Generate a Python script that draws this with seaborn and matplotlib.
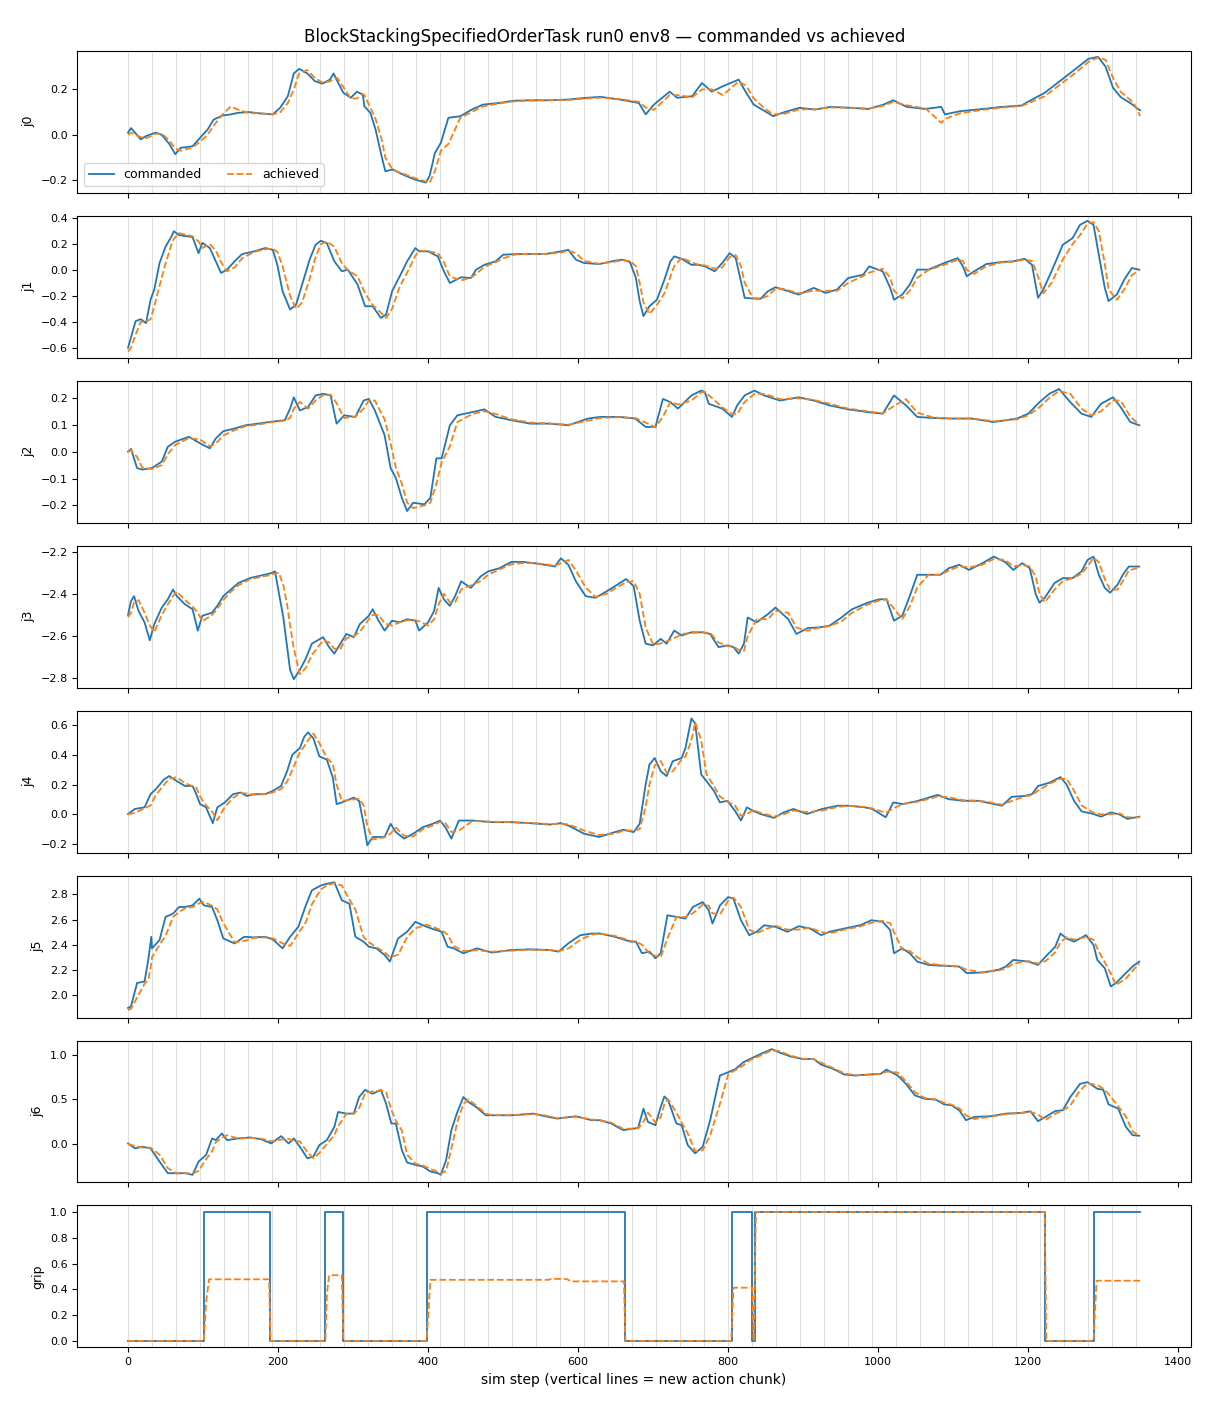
import numpy as np
import pandas as pd
import matplotlib
matplotlib.use("Agg")
import matplotlib.pyplot as plt
import seaborn as sns

# values (sim step, joint value)
j0_steps = [0, 4, 17, 24, 37, 45, 55, 63, 70, 86, 96, 106, 114, 126, 137, 147, 162, 177, 193, 203,
            213, 221, 228, 239, 249, 259, 269, 274, 279, 287, 297, 305, 313, 315, 323, 330, 338, 343, 353, 366,
            382, 397, 402, 409, 417, 427, 443, 458, 473, 494, 514, 534, 560, 585, 611, 630, 656, 681, 690, 701,
            722, 732, 752, 765, 778, 793, 814, 824, 834, 849, 860, 875, 895, 916, 936, 962, 987, 1007, 1020, 1038,
            1063, 1084, 1089, 1109, 1140, 1165, 1191, 1201, 1222, 1242, 1262, 1280, 1293, 1303, 1313, 1323, 1339, 1344, 1349]
j0_cmd = [0.01, 0.03, -0.02, -0.005, 0.01, 0.0, -0.04, -0.085, -0.057, -0.05, -0.013, 0.023, 0.067, 0.085, 0.09, 0.097, 0.1, 0.094, 0.09, 0.12,
          0.17, 0.27, 0.29, 0.27, 0.236, 0.225, 0.243, 0.27, 0.236, 0.185, 0.163, 0.19, 0.177, 0.126, 0.097, 0.023, -0.094, -0.16, -0.152, -0.174,
          -0.196, -0.21, -0.18, -0.08, -0.035, 0.075, 0.082, 0.111, 0.133, 0.14, 0.15, 0.152, 0.152, 0.155, 0.163, 0.167, 0.155, 0.14, 0.09, 0.133,
          0.19, 0.163, 0.17, 0.228, 0.19, 0.214, 0.243, 0.185, 0.133, 0.104, 0.082, 0.1, 0.119, 0.111, 0.123, 0.119, 0.114, 0.133, 0.152, 0.123,
          0.114, 0.123, 0.09, 0.104, 0.114, 0.123, 0.129, 0.148, 0.185, 0.236, 0.287, 0.334, 0.343, 0.3, 0.207, 0.167, 0.133, 0.119, 0.108]
j0_ach = [0.0, 0.01, -0.01, -0.015, 0.005, 0.005, -0.025, -0.06, -0.07, -0.055, -0.03, 0.0, 0.04, 0.09, 0.125, 0.11, 0.095, 0.095, 0.09, 0.1,
          0.14, 0.2, 0.27, 0.285, 0.25, 0.23, 0.235, 0.245, 0.25, 0.21, 0.16, 0.16, 0.18, 0.175, 0.12, 0.07, -0.02, -0.1, -0.155, -0.17,
          -0.19, -0.205, -0.21, -0.16, -0.07, -0.04, 0.075, 0.1, 0.125, 0.138, 0.147, 0.15, 0.152, 0.153, 0.16, 0.163, 0.157, 0.145, 0.12, 0.11,
          0.175, 0.175, 0.165, 0.2, 0.2, 0.175, 0.235, 0.215, 0.16, 0.115, 0.09, 0.093, 0.112, 0.113, 0.12, 0.12, 0.115, 0.128, 0.145, 0.13,
          0.116, 0.053, 0.07, 0.095, 0.11, 0.12, 0.127, 0.14, 0.17, 0.22, 0.27, 0.32, 0.34, 0.33, 0.25, 0.19, 0.145, 0.12, 0.082]

j1_steps = [0, 4, 10, 17, 24, 30, 35, 42, 50, 58, 61, 68, 86, 94, 99, 109, 117, 124, 132, 142,
            152, 168, 183, 193, 199, 206, 216, 224, 232, 242, 250, 257, 265, 275, 285, 293, 306, 316, 326, 337,
            344, 352, 362, 372, 383, 388, 400, 413, 421, 429, 444, 457, 464, 475, 490, 500, 516, 536, 556, 577,
            587, 597, 608, 628, 649, 659, 669, 677, 682, 687, 695, 705, 715, 723, 728, 738, 751, 761, 769, 782,
            792, 802, 810, 817, 822, 833, 843, 853, 863, 873, 894, 914, 930, 945, 960, 980, 988, 1006, 1016, 1021,
            1032, 1042, 1052, 1067, 1088, 1106, 1113, 1118, 1128, 1144, 1164, 1180, 1195, 1205, 1213, 1220, 1231, 1246, 1259, 1269,
            1279, 1287, 1294, 1302, 1307, 1318, 1328, 1338, 1348]
j1_cmd = [-0.6, -0.52, -0.395, -0.38, -0.41, -0.23, -0.15, 0.054, 0.18, 0.26, 0.3, 0.27, 0.254, 0.13, 0.21, 0.17, 0.067, -0.023, 0.003, 0.067,
          0.123, 0.144, 0.17, 0.156, 0.04, -0.164, -0.305, -0.267, -0.113, 0.08, 0.195, 0.226, 0.208, 0.067, -0.01, 0.003, -0.113, -0.28, -0.28, -0.37,
          -0.344, -0.164, -0.05, 0.067, 0.17, 0.144, 0.144, 0.105, -0.01, -0.1, -0.056, -0.062, 0.003, 0.04, 0.067, 0.118, 0.123, 0.123, 0.123, 0.144,
          0.156, 0.08, 0.054, 0.046, 0.072, 0.08, 0.062, -0.062, -0.24, -0.356, -0.28, -0.23, -0.074, 0.067, 0.105, 0.087, 0.04, 0.04, 0.028, -0.01,
          0.054, 0.13, 0.092, -0.087, -0.215, -0.22, -0.223, -0.164, -0.133, -0.151, -0.19, -0.138, -0.177, -0.151, -0.062, -0.036, 0.028, -0.01, -0.138, -0.23,
          -0.19, -0.113, 0.003, 0.003, 0.054, 0.092, 0.028, -0.049, -0.01, 0.046, 0.062, 0.067, 0.087, 0.04, -0.215, -0.151, -0.01, 0.195, 0.246, 0.349,
          0.38, 0.349, 0.118, -0.138, -0.24, -0.19, -0.074, 0.015, 0.003]
j1_ach = [-0.63, -0.6, -0.5, -0.4, -0.4, -0.38, -0.28, -0.12, 0.05, 0.2, 0.24, 0.285, 0.26, 0.22, 0.17, 0.2, 0.15, 0.06, -0.01, 0.02,
          0.09, 0.14, 0.16, 0.165, 0.14, 0.03, -0.2, -0.3, -0.25, -0.07, 0.1, 0.2, 0.22, 0.18, 0.05, 0.0, -0.05, -0.18, -0.27, -0.33,
          -0.37, -0.3, -0.13, -0.02, 0.11, 0.15, 0.145, 0.13, 0.06, -0.05, -0.08, -0.06, -0.03, 0.025, 0.06, 0.09, 0.12, 0.123, 0.123, 0.135,
          0.15, 0.13, 0.07, 0.048, 0.065, 0.075, 0.07, 0.03, -0.1, -0.25, -0.34, -0.27, -0.18, -0.05, 0.03, 0.095, 0.06, 0.04, 0.035, 0.01,
          0.02, 0.1, 0.115, 0.03, -0.1, -0.215, -0.222, -0.2, -0.145, -0.145, -0.18, -0.16, -0.16, -0.16, -0.1, -0.045, -0.02, 0.01, -0.06, -0.16,
          -0.22, -0.16, -0.06, 0.0, 0.04, 0.08, 0.07, 0.0, -0.03, 0.03, 0.058, 0.065, 0.08, 0.07, -0.05, -0.18, -0.1, 0.08, 0.2, 0.27,
          0.36, 0.37, 0.3, 0.05, -0.15, -0.23, -0.15, -0.04, 0.0]

j2_steps = [0, 4, 12, 19, 32, 45, 53, 63, 81, 96, 109, 117, 127, 142, 157, 173, 188, 209, 216, 221,
            229, 240, 250, 260, 270, 278, 288, 303, 314, 321, 329, 342, 350, 357, 365, 372, 380, 395, 403, 411,
            418, 429, 439, 459, 475, 490, 511, 536, 562, 587, 613, 629, 655, 676, 690, 703, 713, 723, 733, 751,
            764, 769, 774, 792, 805, 812, 822, 835, 848, 869, 894, 914, 935, 960, 986, 1006, 1021, 1037, 1052, 1073,
            1098, 1124, 1154, 1185, 1200, 1215, 1228, 1241, 1256, 1271, 1284, 1297, 1313, 1323, 1336, 1348]
j2_cmd = [0.0, 0.01, -0.061, -0.067, -0.061, -0.037, 0.018, 0.037, 0.055, 0.031, 0.012, 0.049, 0.076, 0.086, 0.098, 0.104, 0.11, 0.117, 0.16, 0.202,
          0.153, 0.166, 0.209, 0.215, 0.209, 0.104, 0.135, 0.129, 0.19, 0.196, 0.153, 0.061, -0.061, -0.098, -0.172, -0.221, -0.19, -0.196, -0.172, -0.025,
          -0.025, 0.098, 0.135, 0.147, 0.157, 0.129, 0.117, 0.104, 0.104, 0.098, 0.123, 0.129, 0.129, 0.123, 0.092, 0.092, 0.196, 0.184, 0.16, 0.209,
          0.227, 0.221, 0.178, 0.16, 0.129, 0.172, 0.209, 0.227, 0.209, 0.19, 0.202, 0.19, 0.172, 0.157, 0.147, 0.141, 0.209, 0.172, 0.129, 0.125,
          0.123, 0.123, 0.11, 0.123, 0.141, 0.184, 0.215, 0.233, 0.184, 0.141, 0.129, 0.178, 0.202, 0.166, 0.11, 0.098]
j2_ach = [0.0, 0.005, -0.02, -0.06, -0.065, -0.05, -0.01, 0.025, 0.05, 0.045, 0.02, 0.03, 0.06, 0.08, 0.095, 0.1, 0.108, 0.115, 0.125, 0.16,
          0.185, 0.16, 0.19, 0.21, 0.212, 0.18, 0.125, 0.13, 0.16, 0.19, 0.19, 0.12, 0.03, -0.06, -0.12, -0.19, -0.21, -0.2, -0.19, -0.12,
          -0.04, 0.02, 0.11, 0.14, 0.15, 0.14, 0.12, 0.108, 0.105, 0.1, 0.115, 0.125, 0.128, 0.125, 0.108, 0.09, 0.13, 0.185, 0.175, 0.19,
          0.22, 0.222, 0.21, 0.165, 0.14, 0.14, 0.185, 0.215, 0.215, 0.195, 0.198, 0.192, 0.178, 0.16, 0.15, 0.142, 0.17, 0.195, 0.145, 0.127,
          0.123, 0.123, 0.113, 0.12, 0.135, 0.165, 0.2, 0.225, 0.215, 0.16, 0.135, 0.15, 0.19, 0.19, 0.13, 0.1]

j3_steps = [0, 4, 8, 14, 22, 29, 35, 45, 53, 60, 65, 76, 86, 93, 99, 112, 119, 127, 137, 147,
            163, 178, 191, 196, 201, 207, 212, 216, 221, 229, 237, 245, 260, 268, 275, 283, 291, 301, 309, 321,
            326, 334, 342, 352, 362, 372, 383, 388, 400, 408, 414, 421, 429, 436, 444, 457, 470, 480, 495, 511,
            526, 541, 556, 569, 577, 587, 597, 610, 623, 638, 649, 664, 674, 682, 690, 700, 710, 718, 728, 738,
            751, 766, 776, 787, 800, 807, 814, 821, 826, 838, 853, 863, 880, 891, 906, 921, 935, 951, 965, 986,
            1001, 1011, 1021, 1032, 1042, 1052, 1067, 1083, 1094, 1108, 1121, 1139, 1154, 1169, 1180, 1192, 1202, 1210, 1215, 1222,
            1235, 1246, 1259, 1271, 1279, 1287, 1294, 1302, 1309, 1319, 1326, 1334, 1348]
j3_cmd = [-2.5, -2.434, -2.411, -2.481, -2.535, -2.62, -2.543, -2.465, -2.426, -2.38, -2.411, -2.45, -2.473, -2.574, -2.504, -2.489, -2.457, -2.411, -2.38, -2.349,
          -2.325, -2.313, -2.302, -2.294, -2.395, -2.512, -2.652, -2.76, -2.804, -2.76, -2.706, -2.636, -2.605, -2.652, -2.683, -2.636, -2.59, -2.605, -2.543, -2.504,
          -2.473, -2.527, -2.574, -2.527, -2.535, -2.52, -2.527, -2.574, -2.535, -2.481, -2.372, -2.426, -2.457, -2.411, -2.341, -2.372, -2.318, -2.294, -2.279, -2.249,
          -2.249, -2.255, -2.263, -2.271, -2.232, -2.263, -2.341, -2.411, -2.419, -2.388, -2.364, -2.33, -2.364, -2.527, -2.636, -2.644, -2.613, -2.636, -2.574, -2.597,
          -2.582, -2.582, -2.59, -2.652, -2.644, -2.652, -2.683, -2.636, -2.512, -2.535, -2.496, -2.465, -2.52, -2.59, -2.562, -2.559, -2.551, -2.512, -2.473, -2.442,
          -2.426, -2.426, -2.527, -2.504, -2.411, -2.31, -2.31, -2.31, -2.279, -2.263, -2.287, -2.255, -2.224, -2.249, -2.287, -2.255, -2.279, -2.403, -2.442, -2.419,
          -2.349, -2.326, -2.326, -2.294, -2.24, -2.224, -2.31, -2.372, -2.395, -2.357, -2.31, -2.271, -2.271]
j3_ach = [-2.51, -2.49, -2.44, -2.43, -2.49, -2.55, -2.58, -2.5, -2.45, -2.41, -2.39, -2.43, -2.46, -2.49, -2.53, -2.5, -2.47, -2.43, -2.39, -2.36,
          -2.33, -2.32, -2.31, -2.305, -2.3, -2.36, -2.45, -2.55, -2.66, -2.78, -2.75, -2.69, -2.62, -2.63, -2.66, -2.66, -2.61, -2.6, -2.58, -2.52,
          -2.5, -2.5, -2.54, -2.55, -2.535, -2.525, -2.525, -2.53, -2.55, -2.52, -2.45, -2.4, -2.44, -2.44, -2.38, -2.36, -2.34, -2.31, -2.285, -2.26,
          -2.255, -2.255, -2.26, -2.268, -2.255, -2.24, -2.29, -2.37, -2.415, -2.4, -2.375, -2.345, -2.34, -2.4, -2.56, -2.64, -2.635, -2.625, -2.61, -2.59,
          -2.585, -2.583, -2.585, -2.63, -2.648, -2.65, -2.665, -2.67, -2.6, -2.52, -2.52, -2.48, -2.49, -2.56, -2.575, -2.56, -2.553, -2.53, -2.49, -2.45,
          -2.432, -2.426, -2.47, -2.52, -2.46, -2.37, -2.31, -2.31, -2.29, -2.27, -2.275, -2.262, -2.235, -2.24, -2.27, -2.265, -2.27, -2.32, -2.4, -2.44,
          -2.38, -2.34, -2.326, -2.305, -2.27, -2.23, -2.25, -2.33, -2.38, -2.38, -2.34, -2.29, -2.275]

j4_steps = [0, 9, 22, 30, 37, 48, 55, 65, 76, 86, 91, 96, 104, 113, 119, 129, 140, 150, 158, 168,
            183, 193, 204, 212, 219, 229, 235, 240, 247, 255, 265, 273, 278, 285, 301, 308, 314, 319, 326, 342,
            350, 357, 368, 380, 393, 406, 416, 423, 431, 441, 459, 485, 511, 536, 562, 577, 587, 608, 628, 649,
            660, 674, 682, 690, 695, 702, 710, 718, 726, 738, 743, 751, 756, 764, 771, 781, 789, 799, 809, 817,
            825, 833, 843, 861, 874, 887, 905, 925, 946, 961, 982, 992, 1010, 1020, 1033, 1053, 1079, 1094, 1114, 1134,
            1144, 1165, 1178, 1195, 1205, 1213, 1228, 1243, 1251, 1261, 1271, 1287, 1297, 1310, 1322, 1332, 1348]
j4_cmd = [0.002, 0.036, 0.047, 0.136, 0.169, 0.236, 0.258, 0.224, 0.191, 0.191, 0.136, 0.069, 0.047, -0.06, 0.047, 0.08, 0.136, 0.147, 0.124, 0.136,
          0.136, 0.158, 0.191, 0.291, 0.402, 0.447, 0.524, 0.553, 0.513, 0.391, 0.369, 0.247, 0.069, 0.08, 0.113, 0.091, -0.064, -0.209, -0.153, -0.153,
          -0.064, -0.12, -0.164, -0.131, -0.087, -0.064, -0.042, -0.087, -0.164, -0.042, -0.042, -0.053, -0.053, -0.06, -0.069, -0.06, -0.076, -0.131, -0.153, -0.12,
          -0.104, -0.12, -0.064, 0.202, 0.336, 0.38, 0.291, 0.258, 0.358, 0.38, 0.447, 0.647, 0.613, 0.269, 0.224, 0.158, 0.08, 0.091, 0.024, -0.042,
          0.047, 0.024, 0.002, -0.024, 0.013, 0.036, 0.002, 0.036, 0.058, 0.058, 0.047, 0.036, -0.02, 0.08, 0.069, 0.091, 0.131, 0.102, 0.091, 0.091,
          0.08, 0.058, 0.118, 0.124, 0.136, 0.191, 0.213, 0.251, 0.202, 0.091, 0.02, 0.002, -0.016, 0.013, -0.002, -0.031, -0.016]
j4_ach = [0.0, 0.01, 0.04, 0.06, 0.13, 0.2, 0.24, 0.25, 0.21, 0.19, 0.18, 0.12, 0.06, 0.01, -0.04, 0.05, 0.11, 0.145, 0.14, 0.132,
          0.136, 0.148, 0.17, 0.22, 0.3, 0.42, 0.46, 0.5, 0.545, 0.48, 0.38, 0.34, 0.2, 0.09, 0.1, 0.105, 0.06, -0.08, -0.17, -0.155,
          -0.13, -0.09, -0.145, -0.15, -0.1, -0.075, -0.05, -0.06, -0.12, -0.11, -0.045, -0.05, -0.053, -0.058, -0.066, -0.064, -0.068, -0.11, -0.14, -0.13,
          -0.11, -0.11, -0.1, 0.05, 0.2, 0.33, 0.36, 0.28, 0.29, 0.37, 0.39, 0.5, 0.62, 0.5, 0.27, 0.19, 0.12, 0.085, 0.06, -0.01,
          0.0, 0.03, 0.01, -0.015, 0.0, 0.025, 0.015, 0.025, 0.05, 0.057, 0.05, 0.04, 0.01, 0.04, 0.07, 0.085, 0.12, 0.115, 0.095, 0.091,
          0.085, 0.065, 0.09, 0.12, 0.13, 0.16, 0.205, 0.24, 0.24, 0.16, 0.06, 0.01, 0.0, 0.0, 0.005, -0.02, -0.02]

j5_steps = [0, 4, 12, 22, 27, 31, 32, 42, 50, 60, 68, 76, 86, 95, 101, 112, 119, 127, 142, 155,
            168, 183, 193, 206, 216, 227, 237, 245, 257, 265, 275, 285, 295, 303, 314, 321, 331, 342, 349, 360,
            372, 383, 398, 411, 418, 426, 434, 447, 465, 485, 511, 536, 562, 574, 587, 603, 618, 629, 649, 670,
            677, 685, 695, 703, 710, 719, 731, 743, 753, 766, 774, 779, 789, 800, 807, 817, 828, 838, 848, 863,
            879, 894, 909, 924, 935, 955, 976, 991, 1006, 1016, 1021, 1032, 1042, 1052, 1067, 1088, 1108, 1118, 1139, 1160,
            1170, 1180, 1200, 1213, 1223, 1236, 1243, 1251, 1261, 1277, 1287, 1292, 1302, 1310, 1317, 1330, 1340, 1348]
j5_cmd = [1.897, 1.91, 2.095, 2.108, 2.279, 2.463, 2.371, 2.437, 2.621, 2.647, 2.7, 2.7, 2.713, 2.766, 2.713, 2.7, 2.595, 2.45, 2.41, 2.463,
          2.458, 2.463, 2.442, 2.371, 2.463, 2.542, 2.713, 2.832, 2.871, 2.884, 2.897, 2.753, 2.726, 2.463, 2.424, 2.384, 2.371, 2.318, 2.266, 2.45,
          2.503, 2.582, 2.542, 2.516, 2.503, 2.384, 2.371, 2.332, 2.371, 2.337, 2.358, 2.363, 2.358, 2.345, 2.411, 2.476, 2.489, 2.489, 2.463, 2.424,
          2.424, 2.332, 2.345, 2.292, 2.332, 2.634, 2.621, 2.608, 2.7, 2.739, 2.674, 2.568, 2.713, 2.779, 2.766, 2.595, 2.476, 2.503, 2.555, 2.542,
          2.503, 2.547, 2.529, 2.476, 2.503, 2.529, 2.555, 2.595, 2.582, 2.516, 2.332, 2.371, 2.332, 2.266, 2.239, 2.232, 2.226, 2.174, 2.179, 2.2,
          2.226, 2.279, 2.266, 2.239, 2.305, 2.384, 2.489, 2.45, 2.424, 2.476, 2.397, 2.279, 2.213, 2.068, 2.095, 2.174, 2.232, 2.266]
j5_ach = [1.88, 1.89, 1.98, 2.09, 2.12, 2.25, 2.3, 2.4, 2.47, 2.62, 2.66, 2.69, 2.7, 2.73, 2.74, 2.71, 2.68, 2.57, 2.42, 2.43,
          2.455, 2.458, 2.45, 2.41, 2.39, 2.49, 2.58, 2.72, 2.84, 2.87, 2.89, 2.87, 2.76, 2.68, 2.46, 2.42, 2.38, 2.34, 2.3, 2.32,
          2.46, 2.53, 2.56, 2.53, 2.515, 2.48, 2.39, 2.35, 2.355, 2.345, 2.352, 2.36, 2.357, 2.35, 2.37, 2.44, 2.48, 2.488, 2.47, 2.43,
          2.425, 2.4, 2.33, 2.31, 2.3, 2.45, 2.62, 2.62, 2.65, 2.72, 2.71, 2.65, 2.64, 2.75, 2.775, 2.7, 2.52, 2.49, 2.52, 2.55,
          2.52, 2.52, 2.535, 2.5, 2.49, 2.52, 2.545, 2.575, 2.59, 2.57, 2.5, 2.36, 2.35, 2.3, 2.25, 2.235, 2.228, 2.2, 2.18, 2.195,
          2.21, 2.25, 2.27, 2.25, 2.27, 2.34, 2.42, 2.46, 2.44, 2.46, 2.44, 2.37, 2.26, 2.17, 2.08, 2.13, 2.2, 2.25]

j6_steps = [0, 9, 19, 30, 42, 53, 65, 76, 86, 94, 104, 112, 117, 125, 132, 147, 163, 178, 191, 204,
            214, 221, 229, 239, 247, 255, 265, 275, 280, 291, 301, 308, 316, 326, 337, 344, 351, 357, 365, 372,
            383, 393, 403, 413, 417, 424, 431, 439, 447, 454, 464, 477, 485, 511, 541, 556, 572, 597, 618, 629,
            644, 660, 680, 687, 693, 703, 710, 715, 720, 731, 738, 746, 756, 766, 776, 789, 800, 810, 820, 829,
            843, 858, 868, 883, 899, 914, 924, 940, 955, 970, 986, 1003, 1011, 1026, 1037, 1049, 1062, 1077, 1088, 1098,
            1108, 1117, 1128, 1149, 1170, 1190, 1203, 1213, 1223, 1236, 1246, 1256, 1269, 1279, 1292, 1300, 1307, 1320, 1330, 1339,
            1348]
j6_cmd = [0.007, -0.048, -0.03, -0.048, -0.196, -0.326, -0.326, -0.326, -0.344, -0.196, -0.122, 0.063, 0.044, 0.119, 0.044, 0.063, 0.074, 0.052, 0.007, 0.089,
          0.007, 0.063, -0.03, -0.159, -0.141, -0.011, 0.044, 0.193, 0.359, 0.341, 0.341, 0.526, 0.607, 0.563, 0.607, 0.452, 0.23, 0.23, -0.067, -0.207,
          -0.233, -0.252, -0.307, -0.326, -0.344, -0.178, 0.156, 0.359, 0.526, 0.47, 0.415, 0.322, 0.322, 0.322, 0.341, 0.311, 0.285, 0.311, 0.267, 0.267,
          0.23, 0.156, 0.181, 0.396, 0.248, 0.211, 0.415, 0.533, 0.489, 0.23, 0.211, -0.011, -0.104, -0.03, 0.267, 0.767, 0.804, 0.841, 0.915, 0.952,
          1.007, 1.063, 1.026, 0.981, 0.952, 0.952, 0.889, 0.841, 0.778, 0.767, 0.778, 0.785, 0.833, 0.767, 0.674, 0.544, 0.507, 0.496, 0.444, 0.433,
          0.378, 0.267, 0.304, 0.311, 0.341, 0.348, 0.367, 0.256, 0.304, 0.37, 0.378, 0.526, 0.674, 0.693, 0.619, 0.607, 0.444, 0.396, 0.193, 0.1,
          0.093]
j6_ach = [0.0, -0.02, -0.04, -0.04, -0.12, -0.27, -0.33, -0.325, -0.33, -0.3, -0.17, -0.08, 0.02, 0.07, 0.1, 0.06, 0.07, 0.06, 0.03, 0.05,
          0.06, 0.03, 0.03, -0.09, -0.16, -0.1, 0.0, 0.1, 0.2, 0.34, 0.34, 0.4, 0.57, 0.59, 0.6, 0.58, 0.38, 0.26, 0.15, -0.12,
          -0.22, -0.24, -0.28, -0.31, -0.33, -0.3, -0.05, 0.25, 0.45, 0.5, 0.43, 0.34, 0.325, 0.322, 0.335, 0.32, 0.29, 0.305, 0.275, 0.267,
          0.24, 0.17, 0.175, 0.25, 0.35, 0.24, 0.3, 0.45, 0.5, 0.35, 0.24, 0.12, -0.08, -0.07, 0.1, 0.45, 0.78, 0.83, 0.88, 0.94,
          0.99, 1.05, 1.04, 0.99, 0.955, 0.95, 0.91, 0.85, 0.79, 0.77, 0.775, 0.783, 0.81, 0.8, 0.7, 0.58, 0.515, 0.5, 0.46, 0.44,
          0.4, 0.32, 0.28, 0.305, 0.335, 0.347, 0.36, 0.33, 0.27, 0.34, 0.375, 0.43, 0.6, 0.68, 0.66, 0.62, 0.56, 0.42, 0.31, 0.14,
          0.095]

# gripper: commanded is a step signal, achieved ramps to a partial opening
grip_cmd_steps = [0, 101, 189, 263, 286, 398, 662, 805, 832, 836, 1222, 1287, 1349]
grip_cmd = [0, 1, 0, 1, 0, 1, 0, 1, 0, 1, 0, 1, 1]
grip_ach_steps = [0, 101, 104, 108, 188, 190, 263, 265, 268, 285, 287, 398, 403, 560, 565, 585, 590, 661, 663,
                  804, 807, 832, 834, 837, 1222, 1224, 1287, 1291, 1349]
grip_ach = [0, 0, 0.3, 0.478, 0.478, 0, 0, 0.36, 0.51, 0.51, 0, 0, 0.474, 0.474, 0.482, 0.48, 0.462, 0.462, 0,
            0, 0.413, 0.413, 0, 1.0, 1.0, 0, 0, 0.467, 0.467]

chunk_len = 32
chunk_starts = list(range(0, 1349, chunk_len))

joints = [
    ("j0", j0_steps, j0_cmd, j0_ach, (-0.254, 0.37)),
    ("j1", j1_steps, j1_cmd, j1_ach, (-0.677, 0.42)),
    ("j2", j2_steps, j2_cmd, j2_ach, (-0.264, 0.264)),
    ("j3", j3_steps, j3_cmd, j3_ach, (-2.8435, -2.172)),
    ("j4", j4_steps, j4_cmd, j4_ach, (-0.258, 0.70)),
    ("j5", j5_steps, j5_cmd, j5_ach, (1.821, 2.95)),
    ("j6", j6_steps, j6_cmd, j6_ach, (-0.43, 1.159)),
]

blue = "#1f77b4"
orange = "#ff7f0e"

fig, axes = plt.subplots(8, 1, figsize=(12.1, 14.08), dpi=100, sharex=True)
fig.subplots_adjust(left=0.064, right=0.984, top=0.964, bottom=0.043, hspace=0.162)

for ax, (name, steps, cmd, ach, ylim) in zip(axes[:7], joints):
    df = pd.DataFrame({"step": steps, "commanded": cmd, "achieved": ach})
    sns.lineplot(data=df, x="step", y="commanded", ax=ax, color=blue, lw=1.3,
                 estimator=None, sort=False, label="commanded")
    sns.lineplot(data=df, x="step", y="achieved", ax=ax, color=orange, lw=1.3,
                 linestyle="--", estimator=None, sort=False, label="achieved")
    ax.set_ylim(*ylim)
    ax.set_ylabel(name, fontsize=9)

# gripper panel
ax = axes[7]
sns.lineplot(x=grip_cmd_steps, y=grip_cmd, ax=ax, color=blue, lw=1.3,
             estimator=None, sort=False, drawstyle="steps-post", label="commanded")
sns.lineplot(x=grip_ach_steps, y=grip_ach, ax=ax, color=orange, lw=1.3,
             linestyle="--", estimator=None, sort=False, label="achieved")
ax.set_ylim(-0.05, 1.05)
ax.set_ylabel("grip", fontsize=9)

for i, ax in enumerate(axes):
    for s in chunk_starts:
        ax.axvline(s, color="gray", alpha=0.25, lw=0.8, zorder=0)
    ax.tick_params(labelsize=8)
    ax.set_xlabel("")
    if i == 0:
        ax.legend(loc="lower left", ncol=2, fontsize=9)
    else:
        ax.get_legend().remove()

axes[-1].set_xlim(-67.45, 1416.45)
axes[-1].set_xticks([0, 200, 400, 600, 800, 1000, 1200, 1400])
axes[-1].set_xlabel("sim step (vertical lines = new action chunk)", fontsize=10)
fig.suptitle("BlockStackingSpecifiedOrderTask run0 env8 — commanded vs achieved", fontsize=12, y=0.980)

fig.savefig("out.png", dpi=100)
